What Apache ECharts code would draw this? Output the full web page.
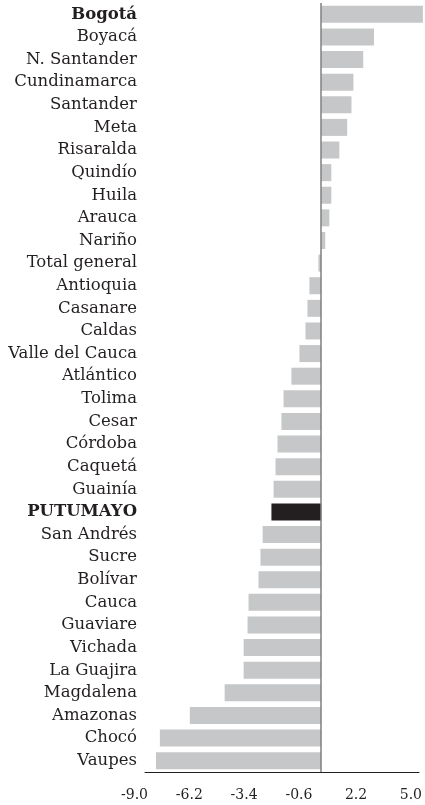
<!DOCTYPE html>
<html>
<head>
<meta charset="utf-8">
<script src="https://cdn.jsdelivr.net/npm/echarts@6/dist/echarts.min.js"></script>
<style>html,body{margin:0;padding:0;background:#fff;}#c{width:425px;height:805px;}</style>
</head>
<body>
<div id="c"></div>
<script>
const categories = ["Bogotá","Boyacá","N. Santander","Cundinamarca","Santander","Meta","Risaralda","Quindío","Huila","Arauca","Nariño","Total general","Antioquia","Casanare","Caldas","Valle del Cauca","Atlántico","Tolima","Cesar","Córdoba","Caquetá","Guainía","PUTUMAYO","San Andrés","Sucre","Bolívar","Cauca","Guaviare","Vichada","La Guajira","Magdalena","Amazonas","Chocó","Vaupes"];
const values = [5.2,2.7,2.15,1.65,1.55,1.33,0.93,0.52,0.52,0.42,0.21,-0.14,-0.6,-0.7,-0.8,-1.11,-1.52,-1.92,-2.03,-2.23,-2.33,-2.43,-2.54,-2.99,-3.1,-3.2,-3.71,-3.76,-3.96,-3.96,-4.93,-6.71,-8.24,-8.44];
const highlighted = ["Bogotá","PUTUMAYO"];
const tickMin = -9.0, tickMax = 5.0, tickStep = 2.8;

const font = "'DejaVu Serif', serif";
const chart = echarts.init(document.getElementById('c'), null, {renderer:'canvas'});
const catData = categories.slice().reverse().map(c => highlighted.includes(c)
  ? {value:c, textStyle:{fontWeight:'bold'}} : c);
const valData = values.slice().reverse().map((v,i) => {
  const name = categories[categories.length-1-i];
  return name === 'PUTUMAYO' ? {value:v, itemStyle:{color:'#231f20'}} : v;
});
chart.setOption({
  animation:false,
  grid:{left:145, right:5, top:3, bottom:33, containLabel:false},
  xAxis:{
    type:'value', min:tickMin, max:tickMax, interval:tickStep,
    splitLine:{show:false},
    axisTick:{show:false},
    axisLine:{show:true, onZero:false, lineStyle:{color:'#231f20', width:1}},
    axisLabel:{fontFamily:font, fontSize:14, color:'#231f20', margin:16, align:'right',
      padding:[0,-3,0,0],
      formatter: v => v.toFixed(1)}
  },
  yAxis:{
    type:'category', data:catData,
    axisLine:{show:false, onZero:false},
    axisTick:{show:false},
    axisLabel:{fontFamily:font, fontSize:16.5, color:'#231f20', margin:8}
  },
  series:[{
    type:'bar', data:valData, barWidth:17, clip:false,
    itemStyle:{color:'#c6c7c8'},
    markLine:{silent:true, symbol:'none', label:{show:false},
      lineStyle:{color:'#7f7f7f', width:1.5, type:'solid'},
      data:[{xAxis:0}]}
  }]
});
</script>
</body>
</html>
